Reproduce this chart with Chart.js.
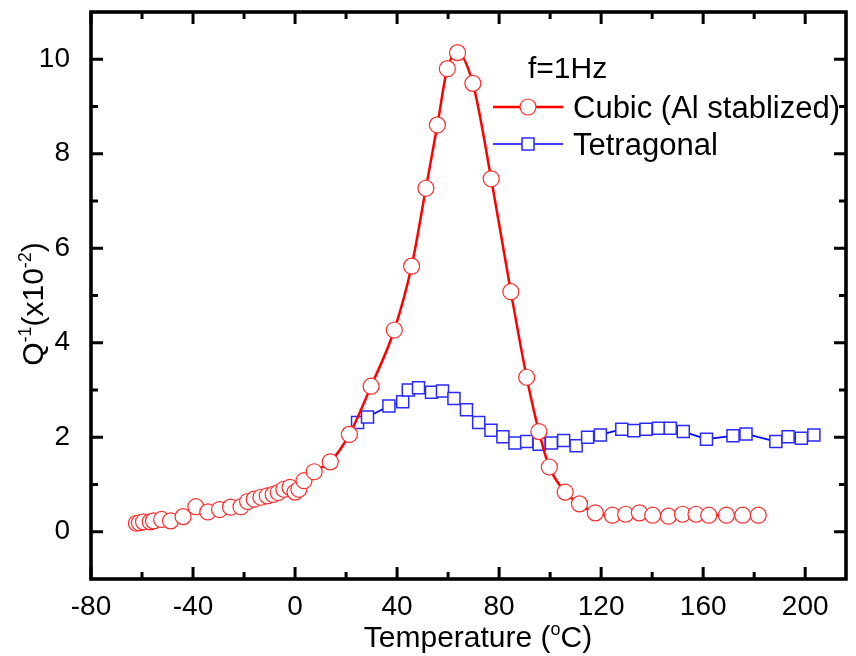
<!DOCTYPE html>
<html lang="en">
<head>
<meta charset="UTF-8">
<title>Internal friction vs temperature</title>
<script src="https://cdn.jsdelivr.net/npm/chart.js@4.4.1/dist/chart.umd.min.js"></script>
<style>
  body { margin: 0; background: #fff; }
  #wrap { width: 856px; height: 656px; }
</style>
</head>
<body>
<div id="wrap"><canvas id="c" width="856" height="656"></canvas></div>
<script>
// data
const cubicT = [-62.2, -61.0, -59.4, -56.8, -55.5, -52.3, -48.8, -43.9, -38.9, -34.2, -29.6, -25.3, -21.2, -18.6, -16.0, -13.4, -10.9, -8.6, -6.6, -4.4, -2.0, 0.0, 1.5, 3.5, 7.5, 13.8, 21.3, 29.8, 38.9, 45.7, 51.3, 55.8, 59.7, 63.7, 69.7, 76.9, 84.6, 90.8, 95.6, 99.7, 105.9, 111.5, 117.7, 124.4, 129.6, 135.0, 140.2, 146.4, 151.9, 157.2, 162.2, 169.1, 175.5, 181.6];
const cubicQ = [0.18, 0.19, 0.21, 0.21, 0.23, 0.26, 0.23, 0.32, 0.53, 0.42, 0.47, 0.52, 0.53, 0.64, 0.69, 0.73, 0.76, 0.79, 0.83, 0.90, 0.94, 0.84, 0.90, 1.08, 1.27, 1.48, 2.06, 3.08, 4.27, 5.62, 7.27, 8.61, 9.80, 10.14, 9.49, 7.47, 5.08, 3.27, 2.12, 1.37, 0.84, 0.59, 0.40, 0.35, 0.37, 0.40, 0.35, 0.33, 0.37, 0.37, 0.35, 0.35, 0.35, 0.35];

const tetraT = [24.5, 28.4, 36.8, 42.2, 44.4, 48.4, 53.5, 57.8, 62.3, 67.2, 72.0, 76.8, 81.5, 86.2, 90.8, 95.7, 100.5, 105.3, 110.2, 114.7, 119.7, 128.1, 132.8, 137.6, 142.5, 147.1, 152.2, 161.3, 171.7, 176.8, 188.5, 193.3, 198.5, 203.4];
const tetraQ = [2.31, 2.43, 2.66, 2.75, 3.00, 3.05, 2.95, 2.98, 2.82, 2.58, 2.31, 2.15, 2.01, 1.88, 1.91, 1.85, 1.88, 1.93, 1.82, 2.00, 2.05, 2.17, 2.14, 2.17, 2.19, 2.19, 2.12, 1.96, 2.03, 2.07, 1.91, 2.01, 1.98, 2.05];

const xTicks = [-80, -40, 0, 40, 80, 120, 160, 200];
const yTicks = [0, 2, 4, 6, 8, 10];
const seriesNames = ['Cubic (Al stablized)', 'Tetragonal'];

const FONT = '"Liberation Sans", Arial, sans-serif';
const RED = '#ff0000';
const BLUE = '#0000ff';

function pts(xs, ys) { return xs.map((x, i) => ({ x: x, y: ys[i] })); }

// frame, inward ticks, axis titles and the legend box
const decor = {
  id: 'decor',
  afterDraw(chart) {
    const c = chart.ctx, a = chart.chartArea;
    const xs = chart.scales.x, ys = chart.scales.y;
    c.save();
    c.strokeStyle = '#000';
    c.lineWidth = 3.6;
    c.strokeRect(a.left, a.top, a.right - a.left, a.bottom - a.top);

    c.lineWidth = 3;
    c.beginPath();
    for (let v = -80; v <= 200; v += 20) {
      const px = xs.getPixelForValue(v);
      const len = v % 40 === 0 ? 12 : 7;
      c.moveTo(px, a.bottom); c.lineTo(px, a.bottom - len);
      c.moveTo(px, a.top); c.lineTo(px, a.top + len);
    }
    for (let v = 0; v <= 10; v += 1) {
      const py = ys.getPixelForValue(v);
      const len = v % 2 === 0 ? 12 : 7;
      c.moveTo(a.left, py); c.lineTo(a.left + len, py);
      c.moveTo(a.right, py); c.lineTo(a.right - len, py);
    }
    c.stroke();

    // x title with superscript degree
    c.fillStyle = '#000';
    c.textBaseline = 'alphabetic';
    const big = '30px ' + FONT, small = '18px ' + FONT;
    const parts = [['Temperature (', big, 0], ['o', small, -12], ['C)', big, 0]];
    let w = 0;
    parts.forEach(p => { c.font = p[1]; w += c.measureText(p[0]).width; });
    let x0 = 478 - w / 2;
    parts.forEach(p => { c.font = p[1]; c.textAlign = 'left'; c.fillText(p[0], x0, 647 + p[2]); x0 += c.measureText(p[0]).width; });

    // y title, rotated
    c.save();
    c.translate(43, 304);
    c.rotate(-Math.PI / 2);
    const yparts = [['Q', big, 0], ['-1', small, -12], ['(x10', big, 0], ['-2', small, -12], [')', big, 0]];
    w = 0;
    yparts.forEach(p => { c.font = p[1]; w += c.measureText(p[0]).width; });
    x0 = -w / 2;
    yparts.forEach(p => { c.font = p[1]; c.fillText(p[0], x0, p[2]); x0 += c.measureText(p[0]).width; });
    c.restore();

    // legend
    c.font = '30px ' + FONT;
    c.fillText('f=1Hz', 528, 78);
    const rows = [[107, 0], [144, 1]];
    rows.forEach(r => {
      const ds = chart.data.datasets[r[1]];
      const y = r[0];
      c.strokeStyle = ds.borderColor;
      c.lineWidth = ds.borderWidth;
      c.beginPath(); c.moveTo(493, y); c.lineTo(563, y); c.stroke();
      c.fillStyle = '#fff';
      c.strokeStyle = ds.pointBorderColor;
      c.lineWidth = ds.pointBorderWidth;
      c.beginPath();
      if (r[1] === 0) c.arc(528, y, 8, 0, Math.PI * 2);
      else c.rect(522, y - 6, 12, 12);
      c.fill(); c.stroke();
      c.fillStyle = '#000';
      c.font = '31px ' + FONT;
      c.fillText(seriesNames[r[1]], 573, y + 11);
    });
    c.restore();
  }
};

const ctx = document.getElementById('c').getContext('2d');
const chart = new Chart(ctx, {
  type: 'line',
  data: {
    datasets: [{
      label: seriesNames[0],
      data: pts(cubicT, cubicQ),
      borderColor: RED,
      borderWidth: 2.5,
      cubicInterpolationMode: 'monotone',
      pointStyle: 'circle',
      pointRadius: 8,
      pointBorderWidth: 1.2,
      pointBorderColor: '#ff2a2a',
      pointBackgroundColor: '#fff'
    }, {
      label: seriesNames[1],
      data: pts(tetraT, tetraQ),
      borderColor: BLUE,
      borderWidth: 1.7,
      tension: 0,
      pointStyle: 'rect',
      pointRadius: 8.5,
      pointBorderWidth: 1.5,
      pointBorderColor: '#2a2aff',
      pointBackgroundColor: '#fff'
    }]
  },
  options: {
    responsive: false,
    animation: false,
    layout: { padding: { top: 12, right: 4, left: 0, bottom: 0 } },
    plugins: { legend: { display: false }, tooltip: { enabled: false } },
    scales: {
      x: {
        type: 'linear', min: -80, max: 216,
        afterBuildTicks: s => { s.ticks = xTicks.map(v => ({ value: v })); },
        afterFit: s => { s.height = 77; s.paddingLeft = 0; s.paddingRight = 0; },
        grid: { display: false }, border: { display: false },
        ticks: { font: { family: FONT, size: 28 }, color: '#000', padding: 3, maxRotation: 0, autoSkip: false }
      },
      y: {
        min: -1, max: 11,
        afterBuildTicks: s => { s.ticks = yTicks.map(v => ({ value: v })); },
        afterFit: s => { s.width = 91; s.paddingTop = 0; s.paddingBottom = 0; },
        grid: { display: false }, border: { display: false },
        ticks: { font: { family: FONT, size: 28 }, color: '#000', padding: 13 }
      }
    }
  },
  plugins: [decor]
});
</script>
</body>
</html>
